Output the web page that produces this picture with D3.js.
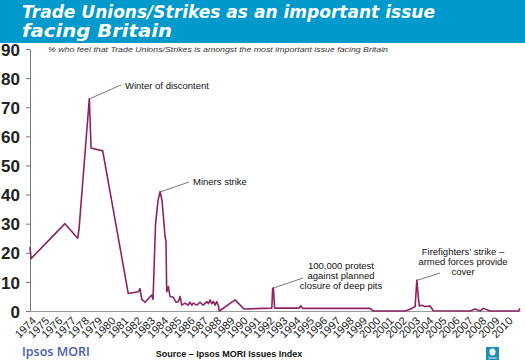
<!DOCTYPE html>
<html>
<head>
<meta charset="utf-8">
<script src="https://cdn.jsdelivr.net/npm/d3@7"></script>
<style>
  body { margin: 0; background: #fff; }
  svg { display: block; }
</style>
</head>
<body>
<div id="vis"></div>
<script>
// data: date (decimal year) and % naming the issue
const dates = [1974.00, 1974.08, 1976.64, 1977.60, 1977.70, 1978.48, 1978.61, 1979.49, 1981.42, 1982.18,
  1982.31, 1982.44, 1982.69, 1983.19, 1983.29, 1983.48, 1983.67, 1983.82, 1983.97, 1984.20,
  1984.27, 1984.32, 1984.45, 1984.57, 1984.82, 1985.03, 1985.20, 1985.33, 1985.46, 1985.71,
  1985.93, 1986.08, 1986.21, 1986.33, 1986.59, 1986.84, 1987.07, 1987.35, 1987.47, 1987.60,
  1987.72, 1987.84, 1987.97, 1988.10, 1988.22, 1988.30, 1989.48, 1990.16, 1992.26, 1992.32,
  1992.38, 1992.47, 1994.32, 1994.45, 1994.58, 1999.68, 1999.93, 2002.32, 2002.70, 2003.08,
  2003.21, 2003.33, 2003.40, 2003.58, 2003.83, 2004.21, 2004.46, 2007.23, 2007.61, 2007.99,
  2008.24, 2008.74, 2010.88, 2011.00];
const values = [22, 18, 30, 25, 28, 73, 56, 55, 6, 6.6,
  7.7, 4, 3, 5.5, 4, 30, 38, 41, 38, 25.5,
  24, 6.6, 8.4, 5, 4.7, 3, 3.2, 5, 2, 2.7,
  2, 3, 2, 2.7, 2, 3, 2, 3.2, 2.5, 3.8,
  2.5, 3.3, 2, 3.2, 1.8, 0, 3.8, 0.7, 1, 7.5,
  8, 1, 1, 1.8, 0.9, 0.9, 0, 0, 0.6, 1.5,
  10.6, 4.4, 1.7, 2, 1.5, 1.7, 0.1, 0, 0.7, 0,
  0.9, 0, 0, 0.9];

const yearLabels = d3.range(1974, 2011);
const yTicks = [0, 10, 20, 30, 40, 50, 60, 70, 80, 90];

// annotations: text lines, the point the leader starts at and where it ends
const notes = [
  { lines: ['Winter of discontent'], at: [1978.48, 73], anchor: 'start' },
  { lines: ['Miners strike'], at: [1983.82, 41], anchor: 'start' },
  { lines: ['100,000 protest', 'against planned', 'closure of deep pits'], at: [1992.38, 8], anchor: 'middle' },
  { lines: ['Firefighters\u2019 strike \u2013', 'armed forces provide', 'cover'], at: [2003.21, 10.6], anchor: 'middle' }
];
const notePos = [
  { tx: 125, ty: 89, lx: 121, ly: 85 },
  { tx: 193, ty: 185, lx: 189, ly: 182 },
  { tx: 341, ty: 269, lx: 303, ly: 278 },
  { tx: 463, ty: 255, lx: 440, ly: 273 }
];

const W = 525, H = 363;
const svg = d3.select('#vis').append('svg').attr('width', W).attr('height', H);
const font = 'Arial, "Liberation Sans", sans-serif';

// header band
svg.append('rect').attr('x', 0).attr('y', 0).attr('width', W).attr('height', 43).attr('fill', '#0099cc');
const title = ['Trade Unions/Strikes as an important issue', 'facing Britain'];
const titleLen = [413, 150];
title.forEach((t, i) => {
  svg.append('text')
    .attr('x', 22).attr('y', 18 + i * 19)
    .attr('fill', '#fff')
    .style('font-family', '"DejaVu Sans", Arial, sans-serif')
    .style('font-weight', 'bold').style('font-style', 'italic')
    .style('font-size', '17px')
    .attr('textLength', titleLen[i]).attr('lengthAdjust', 'spacingAndGlyphs')
    .text(t);
});

svg.append('text')
  .attr('x', 48).attr('y', 52)
  .attr('fill', '#333')
  .style('font-family', font).style('font-style', 'italic').style('font-size', '8px')
  .attr('textLength', 340).attr('lengthAdjust', 'spacingAndGlyphs')
  .text('% who feel that Trade Unions/Strikes is amongst the most important issue facing Britain');

const x = d3.scaleLinear().domain([1974, 2011]).range([30, 520]);
const y = d3.scaleLinear().domain([0, 90]).range([311, 49]);

// y axis
const yAxis = svg.append('g').attr('transform', 'translate(30,0)')
  .call(d3.axisLeft(y).tickValues(yTicks).tickSize(4).tickPadding(6).tickFormat(d3.format('d')));
yAxis.select('.domain').attr('stroke', '#777');
yAxis.selectAll('.tick line').attr('stroke', '#777');
yAxis.selectAll('.tick text')
  .attr('fill', '#222')
  .style('font-family', '"Liberation Sans Narrow", "Arial Narrow", Arial, sans-serif')
  .style('font-weight', 'bold').style('font-size', '17px')
  .attr('dy', '0.36em');

// x axis
const xAxis = svg.append('g').attr('transform', 'translate(0,311)')
  .call(d3.axisBottom(x).tickValues(yearLabels).tickSize(0).tickFormat(d3.format('d')));
xAxis.select('.domain').attr('stroke', '#999').attr('stroke-width', 1.2);
xAxis.selectAll('.tick text')
  .attr('fill', '#222')
  .style('font-family', font).style('font-size', '11px')
  .attr('text-anchor', 'end')
  .attr('x', -3).attr('y', 8).attr('dy', '0.35em')
  .attr('transform', 'rotate(-45)');

// series
const pts = dates.map((d, i) => [d, values[i]]);
svg.append('path')
  .datum(pts)
  .attr('d', d3.line().x(d => x(d[0])).y(d => y(d[1])))
  .attr('fill', 'none')
  .attr('stroke', '#8c2463')
  .attr('stroke-width', 1.6)
  .attr('stroke-linejoin', 'round');

// annotations
notes.forEach((n, i) => {
  const p = notePos[i];
  svg.append('line')
    .attr('x1', x(n.at[0]) + 1).attr('y1', y(n.at[1]))
    .attr('x2', p.lx).attr('y2', p.ly)
    .attr('stroke', '#777').attr('stroke-width', 1);
  n.lines.forEach((t, j) => {
    svg.append('text')
      .attr('x', p.tx).attr('y', p.ty + j * 10)
      .attr('text-anchor', n.anchor)
      .attr('fill', '#111')
      .style('font-family', font).style('font-size', '9.5px')
      .text(t);
  });
});

// footer
svg.append('text')
  .attr('x', 22).attr('y', 356)
  .attr('fill', '#4a5aa8')
  .style('font-family', '"Open Sans", Arial, sans-serif').style('font-size', '12.5px')
  .style('font-weight', '600')
  .text('Ipsos MORI');
svg.append('text')
  .attr('x', 229).attr('y', 357)
  .attr('text-anchor', 'middle')
  .attr('fill', '#111')
  .style('font-family', font).style('font-weight', 'bold').style('font-size', '9px')
  .text('Source \u2013 Ipsos MORI Issues Index');

// small logo box
const logo = svg.append('g').attr('transform', 'translate(486,347)');
logo.append('rect').attr('width', 13).attr('height', 13).attr('fill', '#1b8fb5');
logo.append('ellipse').attr('cx', 6.5).attr('cy', 5).attr('rx', 3).attr('ry', 3.5).attr('fill', '#fff');
logo.append('text').attr('x', 6.5).attr('y', 12).attr('text-anchor', 'middle')
  .attr('fill', '#fff').style('font-family', font).style('font-size', '3.5px').text('Ipsos');
</script>
</body>
</html>
